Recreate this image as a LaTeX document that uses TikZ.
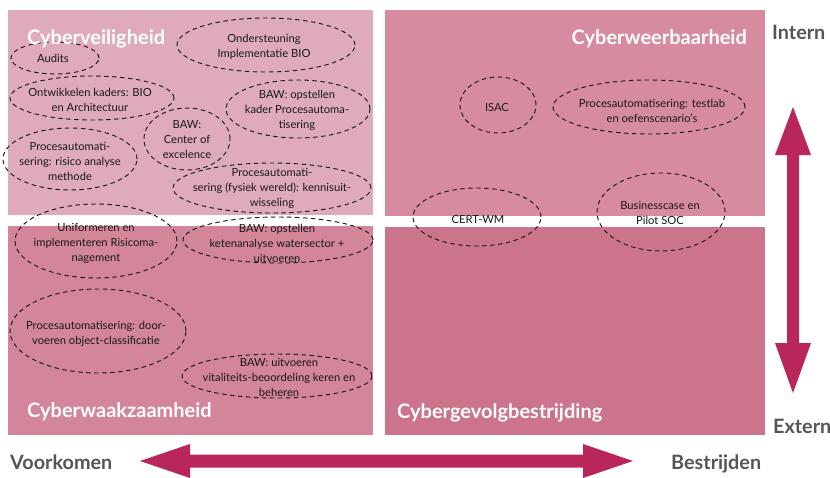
\documentclass[tikz,border=0pt]{standalone}
\usepackage{fontspec}
\setmainfont{Lato}
\definecolor{qtl}{RGB}{223,171,186}
\definecolor{qtr}{RGB}{214,139,158}
\definecolor{qbl}{RGB}{211,133,153}
\definecolor{qbr}{RGB}{204,116,139}
\definecolor{arrowc}{RGB}{185,38,92}
\definecolor{labgray}{RGB}{85,85,85}
\definecolor{itemtxt}{RGB}{25,25,25}
\tikzset{
  itemtext/.style={inner sep=0pt, align=center, text=itemtxt, font=\fontsize{11.2}{15}\selectfont},
  ring/.style={draw=black!90, dash pattern=on 4.5pt off 3.5pt, line width=0.95pt},
  quadtitle/.style={text=white, inner sep=0pt, font=\fontsize{20}{22}\selectfont\bfseries},
  axislabel/.style={text=labgray, inner sep=0pt, font=\fontsize{19.8}{22}\selectfont\bfseries},
  fatarrow/.style={fill=arrowc, draw=none}
}
\begin{document}
\begin{tikzpicture}[x=1pt,y=-1pt]
\useasboundingbox (0,0) rectangle (830,477);
\fill[white] (0,0) rectangle (830,477);
% quadrants
\fill[qtl] (8,10) rectangle (373,215);
\fill[qtr] (385,10) rectangle (765,216);
\fill[qbl] (8,226) rectangle (373,435);
\fill[qbr] (385,227) rectangle (765,435);

% items
\node[itemtext] (audits) at (53,58) {Audits};
\draw[ring] (55,58) ellipse [x radius=44pt, y radius=16pt];
\node[itemtext] (ond) at (264,47) {Ondersteuning\\Implementatie BIO};
\draw[ring] (266,45) ellipse [x radius=89pt, y radius=27pt];
\node[itemtext] (ontw) at (90,100) {Ontwikkelen kaders: BIO\\en Architectuur};
\draw[ring] (92,98) ellipse [x radius=82pt, y radius=22pt];
\node[itemtext] (bawkader) at (297,110) {BAW: opstellen\\kader Procesautoma-\\tisering};
\draw[ring] (298,109) ellipse [x radius=72pt, y radius=29pt];
\node[itemtext] (bawcoe) at (187,140) {BAW:\\Center of\\excelence};
\draw[ring] (187,139) ellipse [x radius=43pt, y radius=31pt];
\node[itemtext] (risico) at (70,161) {Procesautomati-\\sering: risico analyse\\methode};
\draw[ring] (70,159) ellipse [x radius=67pt, y radius=31pt];
\node[itemtext] (fysiek) at (272,188) {Procesautomati-\\sering (fysiek wereld): kennisuit-\\wisseling};
\draw[ring] (272,188) ellipse [x radius=99pt, y radius=25pt];
\node[itemtext] (uniform) at (96,243) {Uniformeren en\\implementeren Risicoma-\\nagement};
\draw[ring] (96,241) ellipse [x radius=81pt, y radius=37pt];
\node[itemtext] (keten) at (277,243) {BAW: opstellen\\ketenanalyse watersector +\\uitvoeren};
\draw[ring] (278,240) ellipse [x radius=95pt, y radius=23pt];
\node[itemtext] (object) at (96,334) {Procesautomatisering: door-\\voeren object-classificatie};
\draw[ring] (98,331) ellipse [x radius=88pt, y radius=42pt];
\node[itemtext] (vital) at (279,377) {BAW: uitvoeren\\vitaliteits-beoordeling keren en\\beheren};
\draw[ring] (277,376) ellipse [x radius=95pt, y radius=22pt];
\node[itemtext] (isac) at (497,107) {ISAC};
\draw[ring] (498,105) ellipse [x radius=38pt, y radius=28pt];
\node[itemtext] (testlab) at (652,111) {Procesautomatisering: testlab\\en oefenscenario’s};
\draw[ring] (649,107) ellipse [x radius=96pt, y radius=27pt];
\node[itemtext] (cert) at (478,219) {CERT-WM};
\draw[ring] (477,217) ellipse [x radius=64pt, y radius=29pt];
\node[itemtext] (soc) at (660,213) {Businesscase en\\Pilot SOC};
\draw[ring] (661,212) ellipse [x radius=64pt, y radius=39pt];

% quadrant titles
\node[quadtitle, anchor=base west] (tveilig) at (27,44) {Cyberveiligheid};
\node[quadtitle, anchor=base east] (tweer) at (747,44) {Cyberweerbaarheid};
\node[quadtitle, anchor=base west] (twaak) at (27,417) {Cyberwaakzaamheid};
\node[quadtitle, anchor=base west] (tgevolg) at (397,418) {Cybergevolgbestrijding};

% axis labels
\node[axislabel, anchor=base west] (intern) at (772,39) {Intern};
\node[axislabel, anchor=base west] (extern) at (773,433) {Extern};
\node[axislabel, anchor=base west] (voork) at (10,469) {Voorkomen};
\node[axislabel, anchor=base west] (bestr) at (671,469) {Bestrijden};

% arrows
\fill[fatarrow] (793,107) -- (811,155) -- (799,155) -- (799,343) -- (811,343)
  -- (793,393) -- (775,343) -- (787,343) -- (787,155) -- (775,155) -- cycle;
\fill[fatarrow] (140,461) -- (190,444) -- (190,454.5) -- (583,454.5) -- (583,444)
  -- (633,461) -- (583,478) -- (583,467.5) -- (190,467.5) -- (190,478) -- cycle;
\end{tikzpicture}
\end{document}
